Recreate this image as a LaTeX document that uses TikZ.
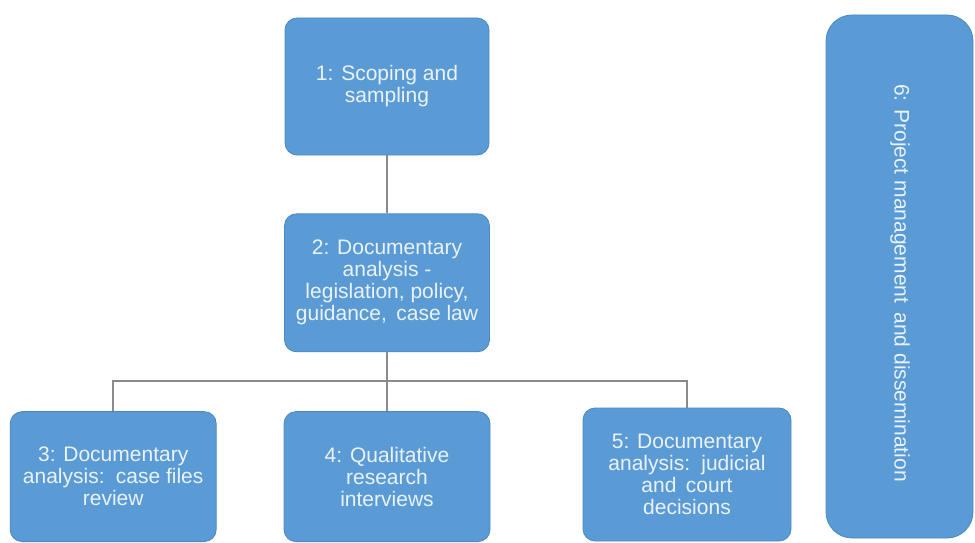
\documentclass[tikz,border=0pt]{standalone}
\usepackage{fontspec}
\setmainfont{Liberation Sans}
\usepackage{tikz}
\usetikzlibrary{positioning}

\definecolor{boxblue}{HTML}{5B9BD5}
\definecolor{boxedge}{HTML}{4A88C2}
\definecolor{boxtext}{HTML}{EAF2FB}
\definecolor{linkgray}{HTML}{8A8A8A}

\begin{document}
\begin{tikzpicture}[x=1pt,y=1pt,node distance=58pt,
	stage node/.style={rectangle,rounded corners=12pt,draw=boxedge,line width=0.8pt,
		fill=boxblue,text=boxtext,align=center,inner sep=2pt,
		font=\fontsize{21}{22}\selectfont},
	link/.style={draw=linkgray,line width=1.6pt}]
	
	\useasboundingbox (0,0) rectangle (975,-543);
	
	\node[stage node,minimum width=204pt,minimum height=137pt] (s1) at (387,-86.5) {1: Scoping and\\sampling};
	\node[stage node,minimum width=205pt,minimum height=138pt] (s2) [below=58pt of s1] {2: Documentary\\analysis -\\legislation, policy,\\guidance,\, case law};
	\node[stage node,minimum width=206pt,minimum height=130pt] (s4) [below=59pt of s2] {4: Qualitative\\research\\interviews};
	\node[stage node,minimum width=206pt,minimum height=130pt] (s3) [left=67pt of s4] {3: Documentary\\analysis:\, case files\\review};
	\node[stage node,minimum width=208pt,minimum height=133pt] (s5) at (687,-474.5) {5: Documentary\\analysis:\, judicial\\and\, court\\decisions};
	\node[stage node,rounded corners=26pt,minimum width=147pt,minimum height=523pt] (s6) at (899.5,-276.5) {};
	\node[text=boxtext,rotate=-90,font=\fontsize{21}{22}\selectfont] (s6label) at (900,-283) {6: Project management\, and dissemination};
	
	\path[link] (s1) -- (s2);
	\path[link] (s2.south) -- ++(0,-29) coordinate (bus);
	\path[link] (s3.north) |- (bus) -| (s5.north);
	\path[link] (s4.north) -- (bus);
\end{tikzpicture}
\end{document}
